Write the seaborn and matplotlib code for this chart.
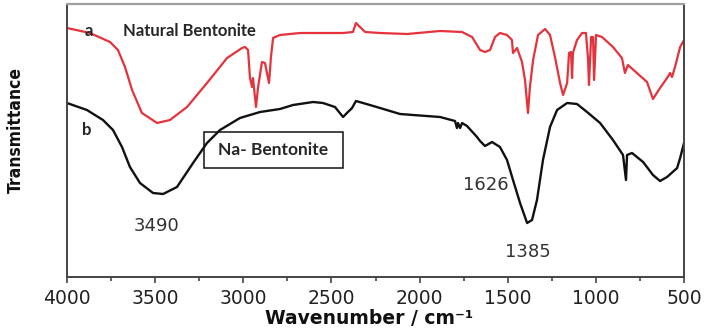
import numpy as np
import pandas as pd
import matplotlib
matplotlib.use("Agg")
import matplotlib.pyplot as plt
import seaborn as sns
from matplotlib.patches import Rectangle
from matplotlib.ticker import MultipleLocator

# ---- data (transmittance in arbitrary units) ----
wn_a = [4000, 3870, 3756, 3711, 3671, 3631, 3575, 3489, 3416, 3319, 3206, 3092,
        3007, 2990, 2973, 2962, 2950, 2945, 2928, 2916, 2894, 2877, 2854, 2843,
        2831, 2792, 2678, 2604, 2434, 2378, 2361, 2338, 2309, 2224, 2071, 1884,
        1759, 1702, 1657, 1629, 1600, 1572, 1544, 1504, 1476, 1470, 1447, 1419,
        1402, 1385, 1374, 1356, 1328, 1288, 1260, 1232, 1203, 1186, 1163, 1152,
        1141, 1135, 1130, 1107, 1078, 1056, 1044, 1039, 1027, 1016, 1010, 999,
        965, 903, 852, 835, 818, 767, 710, 676, 636, 596, 579, 568, 551, 522, 500]
t_a = [249, 244, 235, 227, 210, 187, 164, 154, 157, 170, 194, 219,
       229, 230, 227, 199, 190, 199, 170, 190, 215, 214, 194, 220,
       239, 242, 244, 244, 244, 245, 254, 250, 245, 244, 243, 246,
       245, 240, 227, 225, 227, 240, 244, 242, 237, 224, 229, 215,
       197, 164, 190, 217, 242, 248, 242, 220, 194, 182, 194, 224,
       225, 199, 224, 237, 244, 244, 217, 192, 240, 240, 197, 242,
       240, 230, 219, 204, 212, 204, 195, 178, 189, 199, 204, 200, 210, 230, 237]

wn_b = [4000, 3887, 3796, 3739, 3688, 3643, 3586, 3512, 3455, 3376, 3285, 3206,
        3132, 3019, 2905, 2792, 2718, 2604, 2548, 2480, 2434, 2412, 2383, 2361,
        2321, 2224, 2111, 2037, 1884, 1799, 1788, 1782, 1770, 1759, 1731, 1674,
        1657, 1629, 1589, 1544, 1504, 1470, 1430, 1390, 1362, 1334, 1300, 1260,
        1220, 1163, 1107, 1050, 976, 903, 846, 829, 823, 795, 732, 676, 636,
        596, 539, 522, 500]
t_b = [174, 167, 157, 147, 130, 110, 94, 84, 83, 90, 114, 134,
       147, 159, 165, 168, 172, 175, 174, 170, 160, 164, 169, 176,
       174, 169, 163, 162, 160, 156, 149, 154, 149, 154, 151, 140,
       136, 131, 135, 130, 117, 97, 74, 54, 57, 77, 117, 150,
       167, 174, 173, 165, 154, 137, 122, 97, 122, 124, 115, 102, 96,
       100, 109, 119, 134]

x_ticks = [4000, 3500, 3000, 2500, 2000, 1500, 1000, 500]
peak_labels = ["3490", "1626", "1385"]
peak_wn = [3490, 1626, 1385]
peak_t = [51, 92, 25]

df_a = pd.DataFrame({"wn": wn_a, "T": t_a})
df_b = pd.DataFrame({"wn": wn_b, "T": t_b})

sns.set_theme(style="white")
plt.rcParams["font.family"] = ["DejaVu Sans"]

fig = plt.figure(figsize=(7.08, 3.30), dpi=100)
ax = fig.add_axes([67 / 708, 1 - 277 / 330, 617 / 708, 273 / 330])

sns.lineplot(data=df_a, x="wn", y="T", ax=ax, color="#e5323c", lw=1.6,
             sort=False, estimator=None)
sns.lineplot(data=df_b, x="wn", y="T", ax=ax, color="#111111", lw=1.7,
             sort=False, estimator=None)

ax.set_xlim(4000, 500)
ax.set_ylim(0, 273)
ax.set_xticks(x_ticks)
ax.set_xticklabels([str(v) for v in x_ticks])
ax.xaxis.set_minor_locator(MultipleLocator(250))
ax.set_yticks([])
ax.tick_params(axis="x", which="both", direction="out", length=4, width=1.2,
               color="#444444", bottom=True, labelsize=13.5, labelcolor="#222222", pad=5)
ax.tick_params(axis="x", which="minor", length=3)

for side in ["left", "bottom", "right"]:
    ax.spines[side].set_color("#444444")
    ax.spines[side].set_linewidth(1.4)
ax.spines["top"].set_color("#a0a0a0")
ax.spines["top"].set_linewidth(1.6)

ax.set_xlabel("Wavenumber / cm\u207b\u00b9", fontsize=13.5, fontweight="bold",
              color="#111111")
ax.xaxis.set_label_coords(0.49, -0.118)
ax.set_ylabel("Transmittance", fontsize=12.5, fontweight="bold",
              fontstretch="condensed", color="#111111")
ax.yaxis.set_label_coords(-0.068, 0.54)

# curve labels
ax.text(0.035, 0.9, "a", transform=ax.transAxes, fontsize=12, fontweight="bold",
        family=["Lato", "DejaVu Sans"], ha="center", va="center")
ax.text(0.09, 0.9, "Natural Bentonite", transform=ax.transAxes, fontsize=12,
        fontweight="bold", family=["Lato", "DejaVu Sans"], ha="left", va="center")
ax.text(0.032, 0.539, "b", transform=ax.transAxes, fontsize=12, fontweight="bold",
        family=["Lato", "DejaVu Sans"], ha="center", va="center")

ax.add_patch(Rectangle((0.222, 0.399), 0.225, 0.132, transform=ax.transAxes,
                       fill=False, edgecolor="#111111", lw=1.1))
ax.text(0.3345, 0.465, "Na- Bentonite", transform=ax.transAxes, fontsize=12.5,
        fontweight="bold", family=["Lato", "DejaVu Sans"], ha="center", va="center")

for lab, w, t in zip(peak_labels, peak_wn, peak_t):
    ax.text(w, t, lab, fontsize=13, color="#333333", ha="center", va="center")

fig.savefig("out.png", dpi=100)
